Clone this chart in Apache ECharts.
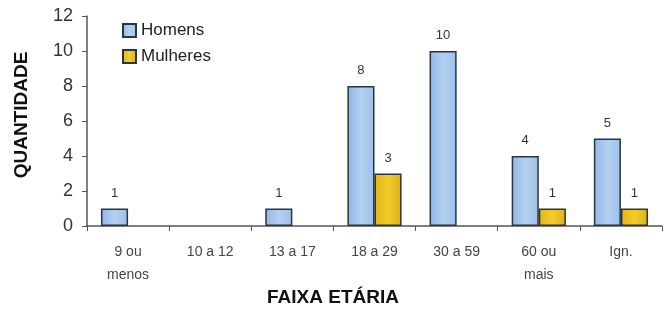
<!DOCTYPE html>
<html><head><meta charset="utf-8">
<script src="https://cdn.jsdelivr.net/npm/echarts@6/dist/echarts.min.js"></script>
<style>html,body{margin:0;padding:0;background:#fff}#c{width:667px;height:309px}</style>
</head><body><div id="c"></div>
<script>
const categories = ['9 ou\nmenos', '10 a 12', '13 a 17', '18 a 29', '30 a 59', '60 ou\nmais', 'Ign.'];
const homens = [1, null, 1, 8, 10, 4, 5];
const mulheres = [null, null, null, 3, null, 1, 1];
const yTicks = [0, 2, 4, 6, 8, 10, 12];
const xTitle = 'FAIXA ETÁRIA';
const yTitle = 'QUANTIDADE';

const chart = echarts.init(document.getElementById('c'));
const font = 'Liberation Sans, Arial, sans-serif';
chart.setOption({
  animation: false,
  textStyle: { fontFamily: font },
  grid: { left: 87, right: 5, top: 16, bottom: 83 },
  legend: {
    orient: 'vertical', left: 117, top: 17, itemWidth: 13, itemHeight: 13, itemGap: 9, icon: 'rect',
    textStyle: { fontSize: 17, color: '#222', fontFamily: font },
    data: ['Homens', 'Mulheres']
  },
  graphic: [
    { type: 'text', x: 333, y: 298, style: { text: xTitle, textAlign: 'center', textVerticalAlign: 'middle',
      font: 'bold 19px Liberation Sans, Arial, sans-serif', fill: '#111' } },
    { type: 'text', x: 22, y: 115, rotation: Math.PI / 2, style: { text: yTitle, textAlign: 'center', textVerticalAlign: 'middle',
      font: 'bold 19px Liberation Sans, Arial, sans-serif', fill: '#111' } }
  ],
  xAxis: {
    type: 'category', data: categories,
    axisLine: { lineStyle: { color: '#555', width: 1.5 } },
    axisTick: { show: true, length: 5, lineStyle: { color: '#555' } },
    axisLabel: { fontSize: 14, color: '#444', margin: 15, lineHeight: 23, fontFamily: font }
  },
  yAxis: {
    type: 'value', min: yTicks[0], max: yTicks[yTicks.length - 1], interval: 2,
    axisLine: { show: true, lineStyle: { color: '#555', width: 1.5 } },
    axisTick: { show: true, length: 5, lineStyle: { color: '#555' } },
    splitLine: { show: false },
    axisLabel: { fontSize: 18, color: '#333', margin: 14, fontFamily: font }
  },
  series: [
    {
      name: 'Homens', type: 'bar', data: homens, barGap: '0%', barCategoryGap: '34%',
      itemStyle: {
        color: new echarts.graphic.LinearGradient(0, 0, 1, 0, [
          { offset: 0, color: '#8fb6e6' }, { offset: 0.5, color: '#b4d0f0' }, { offset: 1, color: '#9cc0ea' }
        ]),
        borderColor: '#2a3340', borderWidth: 1.5
      },
      label: { show: true, position: 'top', distance: 9, fontSize: 13, color: '#333', fontFamily: font }
    },
    {
      name: 'Mulheres', type: 'bar', data: mulheres,
      itemStyle: {
        color: new echarts.graphic.LinearGradient(0, 0, 1, 0, [
          { offset: 0, color: '#e0b418' }, { offset: 0.5, color: '#f2cc2a' }, { offset: 1, color: '#dcb01a' }
        ]),
        borderColor: '#2a3340', borderWidth: 1.5
      },
      label: { show: true, position: 'top', distance: 9, fontSize: 13, color: '#333', fontFamily: font }
    }
  ]
});
</script></body></html>
